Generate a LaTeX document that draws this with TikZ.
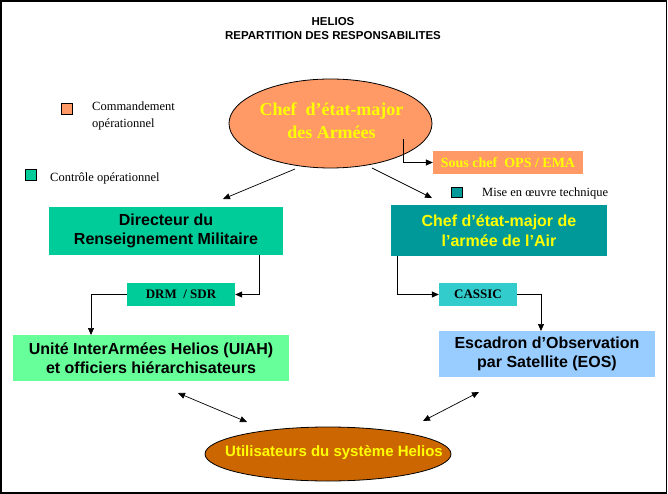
\documentclass[tikz,border=0pt]{standalone}
\usepackage{fontspec}
\setmainfont{Liberation Serif}
\setsansfont{Liberation Sans}
\usetikzlibrary{arrows.meta,shapes.geometric}
\definecolor{salmon}{HTML}{FF9966}
\definecolor{drmgreen}{HTML}{00CC99}
\definecolor{airteal}{HTML}{009999}
\definecolor{uiahgreen}{HTML}{66FF99}
\definecolor{cassiccyan}{HTML}{33CCCC}
\definecolor{eosblue}{HTML}{99CCFF}
\definecolor{userbrown}{HTML}{CC6600}
\definecolor{yel}{HTML}{FFFF00}
\begin{document}
\begin{tikzpicture}[x=1pt,y=-1pt,
  bigbox/.style={rectangle, inner sep=0pt, align=center, font=\sffamily\bfseries\fontsize{16}{19.5}\selectfont},
  smallbox/.style={rectangle, inner sep=0pt, align=center, font=\bfseries\fontsize{13}{15}\selectfont, minimum height=23pt},
  ell/.style={ellipse, draw=black, line width=0.8pt, inner sep=0pt, align=center},
  legsq/.style={rectangle, draw=black, line width=0.6pt, minimum width=11pt, minimum height=10.5pt, inner sep=0pt},
  legtxt/.style={anchor=west, align=left, inner sep=0pt, font=\fontsize{12.5}{17}\selectfont},
  arr/.style={line width=0.7pt, -{Triangle[length=7pt,width=6pt]}},
  darr/.style={line width=0.7pt, {Triangle[length=7pt,width=6pt]}-{Triangle[length=7pt,width=6pt]}}]
\useasboundingbox (0,0) rectangle (668,494);
\draw[line width=1.5pt] (1,1) rectangle (666.5,493);

% title
\node[align=center, inner sep=0pt, font=\sffamily\bfseries\fontsize{11.5}{14}\selectfont] (title) at (333,28.5) {HELIOS\\REPARTITION DES RESPONSABILITES};

% legend
\node[legsq, fill=salmon] (lg1) at (67,109) {};
\node[legtxt] (lt1) at (92,116) {Commandement\\opérationnel};
\node[legsq, fill=drmgreen] (lg2) at (30.5,175) {};
\node[legtxt] (lt2) at (50,178) {Contrôle opérationnel};
\node[legsq, fill=airteal] (lg3) at (457,192.5) {};
\node[legtxt] (lt3) at (482,193) {Mise en œuvre technique};

% top ellipse
\node[ell, fill=salmon, minimum width=203pt, minimum height=89pt] (cema) at (330.5,123.5) {};
\node[text=yel, align=center, inner sep=0pt, font=\bfseries\fontsize{18}{22.5}\selectfont] (cematxt) at (331.5,121) {Chef\ \ d’état-major\\des Armées};

% sous chef
\node[smallbox, fill=salmon, text=yel, minimum width=150pt, font=\bfseries\fontsize{14}{16}\selectfont] (sous) at (508,162.5) {Sous chef\ \ OPS / EMA};

% main boxes
\node[bigbox, fill=drmgreen, minimum width=234pt, minimum height=48pt] (dir) at (166,231) {Directeur du\\Renseignement Militaire};
\node[bigbox, fill=airteal, text=yel, minimum width=216pt, minimum height=51pt] (air) at (499,230.5) {Chef d’état-major de\\l’armée de l’Air};
\node[smallbox, fill=drmgreen, minimum width=108pt] (drm) at (181,294.5) {DRM\ \ / SDR};
\node[smallbox, fill=cassiccyan, minimum width=78pt] (cassic) at (478,294.5) {CASSIC};
\node[bigbox, fill=uiahgreen, minimum width=276pt, minimum height=46pt] (uiah) at (151,358) {Unité InterArmées Helios (UIAH)\\et officiers hiérarchisateurs};
\node[bigbox, fill=eosblue, minimum width=216pt, minimum height=46pt] (eos) at (547,354) {Escadron d’Observation\\par Satellite (EOS)};

% bottom ellipse
\node[ell, fill=userbrown, minimum width=246pt, minimum height=54pt] (users) at (328,454) {};
\node[text=yel, inner sep=0pt, font=\sffamily\bfseries\fontsize{15}{18}\selectfont] (userstxt) at (334,453) {Utilisateurs du système Helios};

% connectors
\coordinate (e1) at (403,139);
\draw[arr] (e1) |- (sous.west);
\coordinate (a1s) at (295,169);
\coordinate (a1e) at (223,199);
\draw[arr] (a1s) -- (a1e);
\coordinate (a2s) at (372,168);
\coordinate (a2e) at (432,198);
\draw[arr] (a2s) -- (a2e);

\coordinate (d1) at (259,255);
\draw[arr] (d1) |- (drm.east);
\coordinate (k1) at (91,335);
\draw[arr] (drm.west) -| (k1);

\coordinate (c1) at (397,256);
\draw[arr] (c1) |- (cassic.west);
\coordinate (k2) at (541,331);
\draw[arr] (cassic.east) -| (k2);

\coordinate (b1s) at (178,393);
\coordinate (b1e) at (247,422);
\draw[darr] (b1s) -- (b1e);
\coordinate (b2s) at (479,392);
\coordinate (b2e) at (423,421);
\draw[darr] (b2s) -- (b2e);
\end{tikzpicture}
\end{document}
